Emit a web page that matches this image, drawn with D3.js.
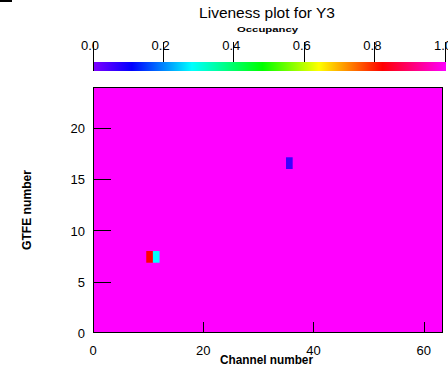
<!DOCTYPE html>
<html>
<head>
<meta charset="utf-8">
<script src="https://cdn.jsdelivr.net/npm/d3@7"></script>
<style>
  body { margin: 0; background: #fff; }
  text { font-family: "Liberation Sans", Arial, sans-serif; fill: #000; }
</style>
</head>
<body>
<svg width="448" height="372"></svg>
<script>
// data
const xTicks = [0, 20, 40, 60];
const yTicks = [0, 5, 10, 15, 20];
const paletteTicks = [0, 0.2, 0.4, 0.6, 0.8, 1.0];
const paletteStops = [0, 0.11, 0.28, 0.48, 0.64, 0.82, 1.0];
const paletteColors = ["#8000ff", "#0000ff", "#00ffff", "#00ff00", "#ffff00", "#ff0000", "#ff00ff"];
const nxBins = 53, nyBins = 21;       // histogram binning
const fullOccupancy = 1.0;            // every other bin
const cellX = [8, 9, 29];             // x bin index
const cellY = [6, 6, 14];             // y bin index
const cellOcc = [0.82, 0.28, 0.06];   // occupancy

const svg = d3.select("svg");

// frame
const fLeft = 93, fRight = 443, fTop = 87, fBottom = 333;
const x = d3.scaleLinear().domain([0, 63.5]).range([fLeft, fRight]);
const y = d3.scaleLinear().domain([0, 24]).range([fBottom, fTop]);
const color = d3.scaleLinear().domain(paletteStops).range(paletteColors).clamp(true);

const bw = 64 / nxBins, bh = 24 / nyBins;

// background bins all full
svg.append("rect")
  .attr("x", fLeft).attr("y", fTop)
  .attr("width", fRight - fLeft).attr("height", fBottom - fTop)
  .attr("fill", color(fullOccupancy));

const cells = cellX.map((c, i) => ({ c, g: cellY[i], v: cellOcc[i] }));
svg.selectAll("rect.cell")
  .data(cells)
  .enter().append("rect")
    .attr("class", "cell")
    .attr("x", d => x(d.c * bw))
    .attr("y", d => y((d.g + 1) * bh))
    .attr("width", d => x((d.c + 1) * bw) - x(d.c * bw))
    .attr("height", d => y(d.g * bh) - y((d.g + 1) * bh))
    .attr("fill", d => color(d.v));

svg.append("rect")
  .attr("x", fLeft + 0.5).attr("y", fTop + 0.5)
  .attr("width", fRight - fLeft - 1).attr("height", fBottom - fTop - 1)
  .attr("fill", "none").attr("stroke", "#000").attr("stroke-width", 1);

// ticks inside the frame
svg.selectAll("line.xt")
  .data(xTicks.filter(d => d > 0))
  .enter().append("line")
    .attr("x1", d => Math.round(x(d)) + 0.5).attr("x2", d => Math.round(x(d)) + 0.5)
    .attr("y1", fBottom).attr("y2", fBottom - 11)
    .attr("stroke", "#000");

svg.selectAll("line.yt")
  .data(yTicks.filter(d => d > 0))
  .enter().append("line")
    .attr("y1", d => Math.round(y(d)) + 0.5).attr("y2", d => Math.round(y(d)) + 0.5)
    .attr("x1", fLeft).attr("x2", fLeft + 18)
    .attr("stroke", "#000");

svg.selectAll("text.xl")
  .data(xTicks)
  .enter().append("text")
    .attr("x", d => x(d)).attr("y", 355)
    .attr("text-anchor", "middle")
    .attr("font-size", 13)
    .text(d => d);

svg.selectAll("text.yl")
  .data(yTicks)
  .enter().append("text")
    .attr("x", 85).attr("y", d => y(d) + 5)
    .attr("text-anchor", "end")
    .attr("font-size", 13)
    .text(d => d);

svg.append("text")
  .attr("x", 220).attr("y", 364)
  .attr("font-size", 12).attr("font-weight", "bold")
  .attr("textLength", 93).attr("lengthAdjust", "spacingAndGlyphs")
  .text("Channel number");

svg.append("text")
  .attr("transform", "translate(31,250) rotate(-90)")
  .attr("font-size", 12).attr("font-weight", "bold")
  .attr("textLength", 80).attr("lengthAdjust", "spacingAndGlyphs")
  .text("GTFE number");

// palette bar
const px = d3.scaleLinear().domain([0, 1]).range([93, 446]);
const grad = svg.append("defs").append("linearGradient")
  .attr("id", "pal").attr("x1", "0%").attr("x2", "100%");
grad.selectAll("stop")
  .data(paletteStops)
  .enter().append("stop")
    .attr("offset", d => d * 100 + "%")
    .attr("stop-color", (d, i) => paletteColors[i]);

svg.append("rect")
  .attr("x", px(0)).attr("y", 62)
  .attr("width", px(1) - px(0)).attr("height", 9)
  .attr("fill", "url(#pal)");

svg.append("line")
  .attr("x1", px(0) + 0.5).attr("x2", px(0) + 0.5)
  .attr("y1", 42).attr("y2", 71)
  .attr("stroke", "#000");

svg.selectAll("line.pt")
  .data(paletteTicks.slice(1))
  .enter().append("line")
    .attr("x1", d => Math.round(px(d)) - 0.5).attr("x2", d => Math.round(px(d)) - 0.5)
    .attr("y1", 42).attr("y2", 62)
    .attr("stroke", "#000");

svg.selectAll("text.pl")
  .data(paletteTicks)
  .enter().append("text")
    .attr("x", d => px(d) - 3).attr("y", 50)
    .attr("text-anchor", "middle")
    .attr("font-size", 13)
    .text(d => d.toFixed(1));

svg.append("text")
  .attr("x", 237).attr("y", 32)
  .attr("font-size", 8).attr("font-weight", "bold")
  .attr("textLength", 61).attr("lengthAdjust", "spacingAndGlyphs")
  .text("Occupancy");

svg.append("text")
  .attr("x", 267).attr("y", 18)
  .attr("text-anchor", "middle")
  .attr("font-size", 15.5)
  .text("Liveness plot for Y3");

// small black mark in the corner
svg.append("rect")
  .attr("x", 0).attr("y", 0).attr("width", 12).attr("height", 2)
  .attr("fill", "#000");
</script>
</body>
</html>
